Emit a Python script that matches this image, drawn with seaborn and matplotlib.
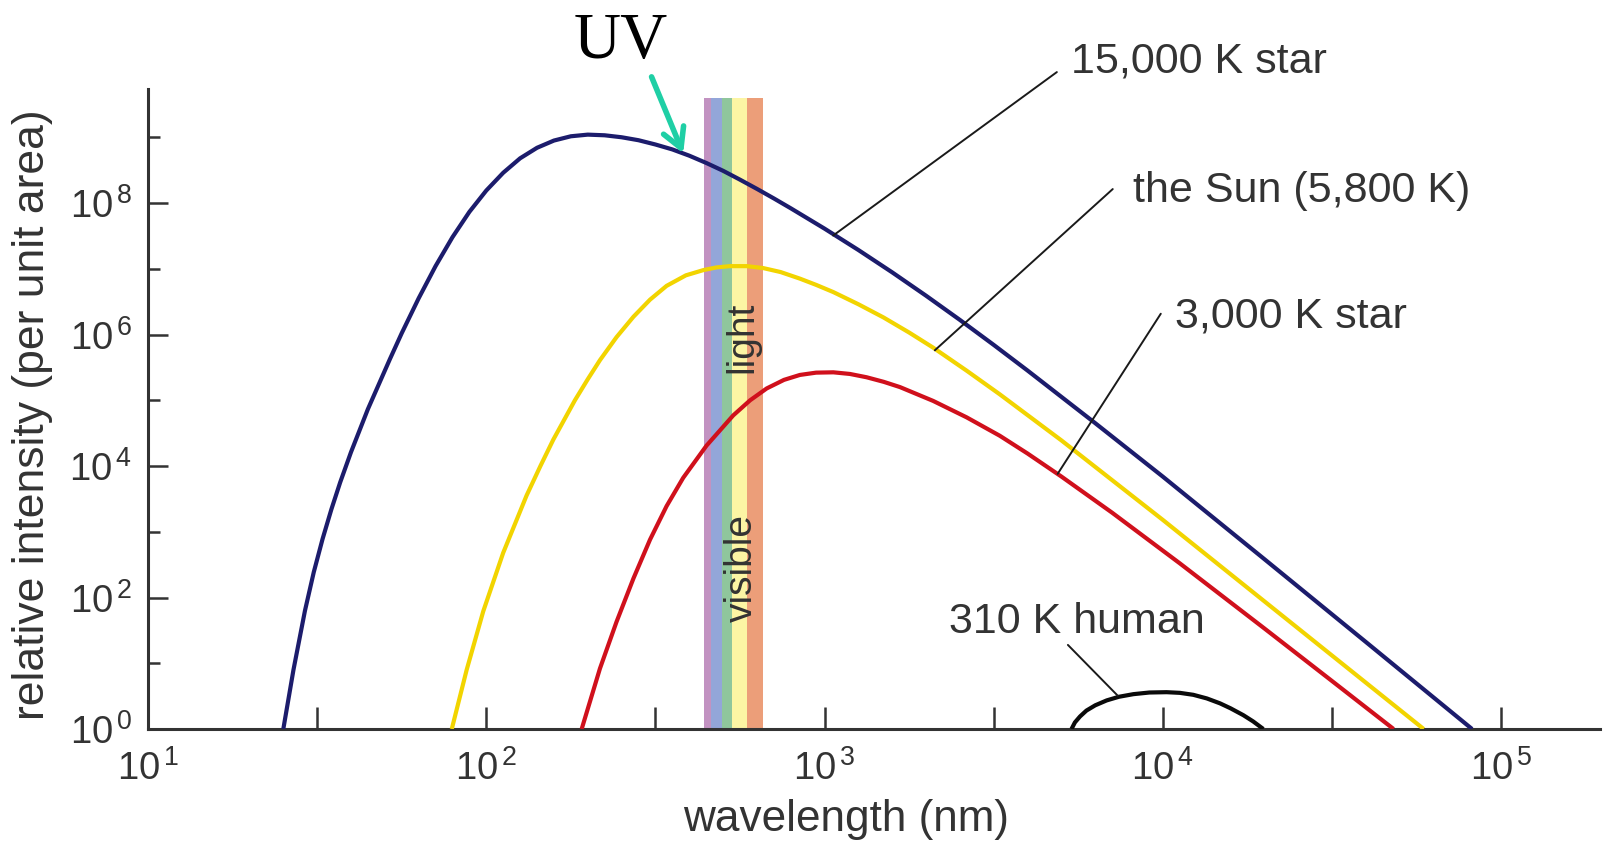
import numpy as np
import pandas as pd
import matplotlib
matplotlib.use("Agg")
import matplotlib.pyplot as plt
from matplotlib.ticker import FixedLocator, FuncFormatter, NullFormatter
import seaborn as sns

# ---------------- data (log10 of wavelength in nm, log10 of intensity) ----------------
# 15,000 K star
star15k_log_wavelength = [1.400, 1.430, 1.464, 1.490, 1.516, 1.542, 1.568, 1.600, 1.650, 1.715,
                          1.750, 1.800, 1.850, 1.900, 1.950, 2.000, 2.050, 2.100, 2.150, 2.200,
                          2.250, 2.300, 2.350, 2.400, 2.450, 2.500, 2.550, 2.600, 2.650, 2.700,
                          2.750, 2.800, 2.850, 2.900, 3.000, 3.100, 3.200, 3.300, 3.400, 3.500,
                          3.600, 3.800, 4.000, 4.300, 4.600, 4.914]
star15k_log_intensity = [0.00, 0.90, 1.80, 2.385, 2.89, 3.34, 3.75, 4.21, 4.865, 5.625,
                         6.02, 6.55, 7.04, 7.48, 7.865, 8.19, 8.46, 8.68, 8.84, 8.95,
                         9.015, 9.04, 9.03, 9.00, 8.955, 8.89, 8.815, 8.72, 8.61, 8.49,
                         8.355, 8.215, 8.07, 7.92, 7.61, 7.285, 6.945, 6.59, 6.222, 5.842,
                         5.452, 4.652, 3.838, 2.584, 1.324, 0.00]
# the Sun (5,800 K)
sun_log_wavelength = [1.898, 1.942, 1.991, 2.050, 2.119, 2.160, 2.198, 2.262, 2.300, 2.336,
                      2.385, 2.435, 2.484, 2.533, 2.590, 2.642, 2.680, 2.721, 2.770, 2.819,
                      2.870, 2.927, 2.975, 3.026, 3.100, 3.174, 3.250, 3.321, 3.420, 3.518,
                      3.700, 4.000, 4.400, 4.771]
sun_log_intensity = [0.00, 0.90, 1.79, 2.68, 3.55, 4.00, 4.40, 5.00, 5.32, 5.61,
                     5.96, 6.27, 6.53, 6.74, 6.90, 6.98, 7.02, 7.04, 7.04, 7.01,
                     6.95, 6.85, 6.755, 6.645, 6.46, 6.26, 6.03, 5.80, 5.45, 5.09,
                     4.39, 3.18, 1.53, 0.00]
# 3,000 K star
star3k_log_wavelength = [2.282, 2.336, 2.385, 2.435, 2.484, 2.533, 2.582, 2.651, 2.730, 2.780,
                         2.829, 2.880, 2.927, 2.975, 3.026, 3.075, 3.124, 3.175, 3.223, 3.321,
                         3.420, 3.518, 3.600, 3.700, 3.850, 4.050, 4.300, 4.500, 4.682]
star3k_log_intensity = [0.00, 0.92, 1.63, 2.29, 2.88, 3.39, 3.82, 4.31, 4.77, 5.00,
                        5.18, 5.31, 5.385, 5.42, 5.425, 5.40, 5.35, 5.28, 5.20, 4.99,
                        4.74, 4.46, 4.19, 3.84, 3.29, 2.52, 1.53, 0.73, 0.00]
# 310 K human
human_log_wavelength = [3.730, 3.740, 3.755, 3.774, 3.800, 3.834, 3.870, 3.913, 3.960, 4.011,
                        4.050, 4.090, 4.130, 4.169, 4.200, 4.238, 4.267, 4.297]
human_log_intensity = [0.00, 0.10, 0.19, 0.28, 0.36, 0.435, 0.49, 0.53, 0.555, 0.56,
                       0.55, 0.52, 0.465, 0.39, 0.315, 0.21, 0.115, 0.00]

series_names = ["15,000 K star", "the Sun (5,800 K)", "3,000 K star", "310 K human"]
series_colors = ["#1c1c6c", "#f2d400", "#d0101c", "#0a0a0a"]

# visible band stripes (nm)
band_edges = [440, 461, 498, 531, 589, 659]
band_colors = ["#c292c1", "#93a6d9", "#8fc69c", "#fcf5a4", "#ec9e79"]
band_top = 4.0e9

x_major = [1e1, 1e2, 1e3, 1e4, 1e5]
x_minor = [10 ** 1.5, 10 ** 2.5, 10 ** 3.5, 10 ** 4.5]
y_major = [1e0, 1e2, 1e4, 1e6, 1e8]
y_minor = [1e1, 1e3, 1e5, 1e7, 1e9]

# ---------------- style ----------------
sns.set_style("ticks")
plt.rcParams["font.family"] = ["Liberation Sans", "DejaVu Sans"]
plt.rcParams["mathtext.fontset"] = "custom"
plt.rcParams["mathtext.rm"] = "Liberation Sans"
plt.rcParams["mathtext.it"] = "Liberation Sans:italic"
plt.rcParams["mathtext.bf"] = "Liberation Sans:bold"

TXT = "#333333"

fig = plt.figure(figsize=(16.03, 8.5), dpi=100)
ax = fig.add_axes([0.09233, 0.14235, 0.90580, 0.75294])

# visible band
for lo, hi, c in zip(band_edges[:-1], band_edges[1:], band_colors):
    ax.fill_between([lo, hi], 1.0, band_top, color=c, lw=0, zorder=1)

# curves
frames = []
for name, lwl, lint in zip(series_names,
                           [star15k_log_wavelength, sun_log_wavelength, star3k_log_wavelength, human_log_wavelength],
                           [star15k_log_intensity, sun_log_intensity, star3k_log_intensity, human_log_intensity]):
    frames.append(pd.DataFrame({"wavelength": np.power(10.0, lwl),
                                "intensity": np.power(10.0, lint),
                                "source": name}))
df = pd.concat(frames, ignore_index=True)

ax.set_xscale("log")
ax.set_yscale("log")
sns.lineplot(data=df, x="wavelength", y="intensity", hue="source", hue_order=series_names,
             palette=series_colors, estimator=None, sort=False, linewidth=3.0,
             legend=False, ax=ax, zorder=3)
for ln in ax.get_lines():
    ln.set_solid_joinstyle("round")
    ln.set_solid_capstyle("butt")

ax.set_xlim(1e1, 1.96e5)
ax.set_ylim(1e0, 5.42e9)

# ticks
def sup_fmt(v, pos):
    return r"$\mathregular{10^{\,%d}}$" % int(round(np.log10(v)))

ax.xaxis.set_major_locator(FixedLocator(x_major))
ax.xaxis.set_minor_locator(FixedLocator(x_minor))
ax.xaxis.set_major_formatter(FuncFormatter(sup_fmt))
ax.xaxis.set_minor_formatter(NullFormatter())
ax.yaxis.set_major_locator(FixedLocator(y_major))
ax.yaxis.set_minor_locator(FixedLocator(y_minor))
ax.yaxis.set_major_formatter(FuncFormatter(sup_fmt))
ax.yaxis.set_minor_formatter(NullFormatter())

ax.tick_params(axis="x", which="both", direction="in", length=15.5, width=1.8,
               color=TXT, pad=15, labelsize=27.5, labelcolor=TXT)
ax.tick_params(axis="y", which="major", direction="in", length=14.5, width=1.8,
               color=TXT, pad=11.5, labelsize=27.5, labelcolor=TXT)
ax.tick_params(axis="y", which="minor", direction="in", length=8.5, width=1.8, color=TXT)

for s in ["top", "right"]:
    ax.spines[s].set_visible(False)
for s in ["left", "bottom"]:
    ax.spines[s].set_linewidth(2.2)
    ax.spines[s].set_color(TXT)

ax.set_xlabel("wavelength (nm)", fontsize=31.8, color=TXT)
ax.xaxis.set_label_coords(0.481, -0.141)
ax.xaxis.label.set_verticalalignment("center")
ax.set_ylabel("relative intensity (per unit area)", fontsize=32, color=TXT)
ax.yaxis.set_label_coords(-0.0795, 0.4906)
ax.yaxis.label.set_verticalalignment("center")

# band labels
ax.text(610, 10 ** 5.96, "light", rotation=90, rotation_mode="anchor", ha="center",
        va="baseline", fontsize=28, color=TXT, zorder=5)
ax.text(610, 10 ** 2.45, "visible", rotation=90, rotation_mode="anchor", ha="center",
        va="baseline", fontsize=28, color=TXT, zorder=5)

# leader lines and labels
leaders = [
    ((1060, 3.2e7), (4860, 9.8e9)),
    ((2118, 5.75e5), (7110, 1.63e8)),
    ((4887, 7.6e3), (9860, 2.07e6)),
    ((7360, 3.2), (5240, 19.0)),
]
for (x0, y0), (x1, y1) in leaders:
    ax.plot([x0, x1], [y0, y1], color="#1a1a1a", lw=1.4, clip_on=False, zorder=4)

labels = [
    (5346, 9.77e9, "15,000 K star"),
    (8166, 1.05e8, "the Sun (5,800 K)"),
    (10864, 1.29e6, "3,000 K star"),
    (2333, 28.8, "310 K human"),
]
for x, y, t in labels:
    ax.text(x, y, t, ha="left", va="baseline", fontsize=31, color=TXT, zorder=5,
            clip_on=False)

# UV label and arrow
ax.text(249.5, 1.6e10, "UV", ha="center", va="baseline", fontsize=47,
        family=["Liberation Serif", "DejaVu Serif"], color="black", clip_on=False)
ax.annotate("", xy=(382, 5.7e8), xytext=(308, 8.3e9),
            arrowprops=dict(arrowstyle="->,head_length=0.7,head_width=0.39",
                            color="#1fcfa5", lw=4, mutation_scale=20,
                            shrinkA=0, shrinkB=0),
            annotation_clip=False, zorder=6)

fig.savefig("out.png", dpi=100)
